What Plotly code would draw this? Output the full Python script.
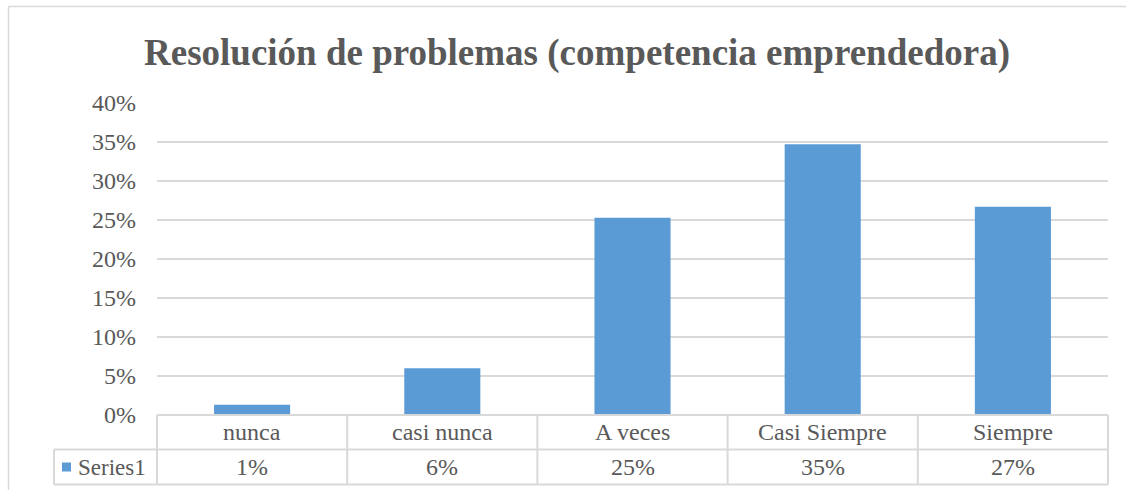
import plotly.graph_objects as go

categories = ["nunca", "casi nunca", "A veces", "Casi Siempre", "Siempre"]
values = [0.013, 0.060, 0.253, 0.347, 0.267]
series_name = "Series1"
title_text = "Resolución de problemas (competencia emprendedora)"
y_ticks = [0, 0.05, 0.10, 0.15, 0.20, 0.25, 0.30, 0.35, 0.40]

W, H = 1126, 490
L, R, T, B = 157, 18, 103, 75
pw, ph = W - L - R, H - T - B

def px_x(px):
    return (px - L) / pw

def px_y(py):
    return (H - B - py) / ph

TXT = "#595959"
GRID = "#d9d9d9"
BAR = "#5b9bd5"
FONT = "Liberation Serif, Times New Roman, serif"
FS = 24

fig = go.Figure()
fig.add_trace(go.Bar(x=categories, y=values, marker=dict(color=BAR, line=dict(width=0)),
                     name=series_name, showlegend=False, hoverinfo="x+y"))

shapes = []
n = len(categories)
# outer chart border (top and left edges visible in the crop)
shapes.append(dict(type="line", xref="paper", yref="paper", x0=px_x(8.5), x1=px_x(1126),
                   y0=px_y(6.5), y1=px_y(6.5), line=dict(color=GRID, width=1.5), layer="below"))
shapes.append(dict(type="line", xref="paper", yref="paper", x0=px_x(8.5), x1=px_x(8.5),
                   y0=px_y(6.5), y1=px_y(490), line=dict(color=GRID, width=1.5), layer="below"))
# data table horizontal lines
row1_top, row1_bot, row2_bot = 415, 449.5, 484.5
for yy, x0 in [(row1_top, L), (row1_bot, 54), (row2_bot, 54)]:
    shapes.append(dict(type="line", xref="paper", yref="paper", x0=px_x(x0), x1=1,
                       y0=px_y(yy), y1=px_y(yy), line=dict(color=GRID, width=2)))
# vertical lines at category boundaries
for i in range(n + 1):
    xv = i / n
    shapes.append(dict(type="line", xref="paper", yref="paper", x0=xv, x1=xv,
                       y0=px_y(row1_top), y1=px_y(row2_bot), line=dict(color=GRID, width=2)))
shapes.append(dict(type="line", xref="paper", yref="paper", x0=px_x(54), x1=px_x(54),
                   y0=px_y(row1_bot), y1=px_y(row2_bot), line=dict(color=GRID, width=2)))
# legend key square
shapes.append(dict(type="rect", xref="paper", yref="paper", x0=px_x(62), x1=px_x(71),
                   y0=px_y(471.5), y1=px_y(462.5), fillcolor=BAR, line=dict(width=0)))

annotations = []
for i, (c, v) in enumerate(zip(categories, values)):
    annotations.append(dict(x=c, xref="x", y=px_y(432), yref="paper", text=c, showarrow=False,
                            font=dict(family=FONT, size=FS, color=TXT), xanchor="center", yanchor="middle"))
    annotations.append(dict(x=c, xref="x", y=px_y(467), yref="paper", text=f"{v*100:.0f}%",
                            showarrow=False, font=dict(family=FONT, size=FS, color=TXT),
                            xanchor="center", yanchor="middle"))
annotations.append(dict(x=px_x(76), xref="paper", y=px_y(467), yref="paper", text=series_name,
                        showarrow=False, font=dict(family=FONT, size=FS - 1, color=TXT),
                        xanchor="left", yanchor="middle"))

fig.update_layout(
    width=W, height=H,
    margin=dict(l=L, r=R, t=T, b=B),
    paper_bgcolor="white", plot_bgcolor="white",
    title=dict(text=f"<b>{title_text}</b>", x=577 / W, xref="container", xanchor="center",
               y=1 - 52 / H, yanchor="middle",
               font=dict(family=FONT, size=37, color=TXT)),
    bargap=0.6,
    xaxis=dict(showticklabels=False, showgrid=False, zeroline=False, showline=False, ticks=""),
    yaxis=dict(range=[0, 0.40], tickvals=y_ticks, tickformat=".0%", showgrid=True,
               gridcolor=GRID, gridwidth=1.5, zeroline=False, showline=False, ticks="",
               ticklabelstandoff=20,
               tickfont=dict(family=FONT, size=FS, color=TXT)),
    shapes=shapes, annotations=annotations,
    showlegend=False,
)

fig.write_html("out.html", config={"displayModeBar": False},
               post_script="document.body.style.margin='0';document.body.style.padding='0';document.body.style.overflow='hidden';")
